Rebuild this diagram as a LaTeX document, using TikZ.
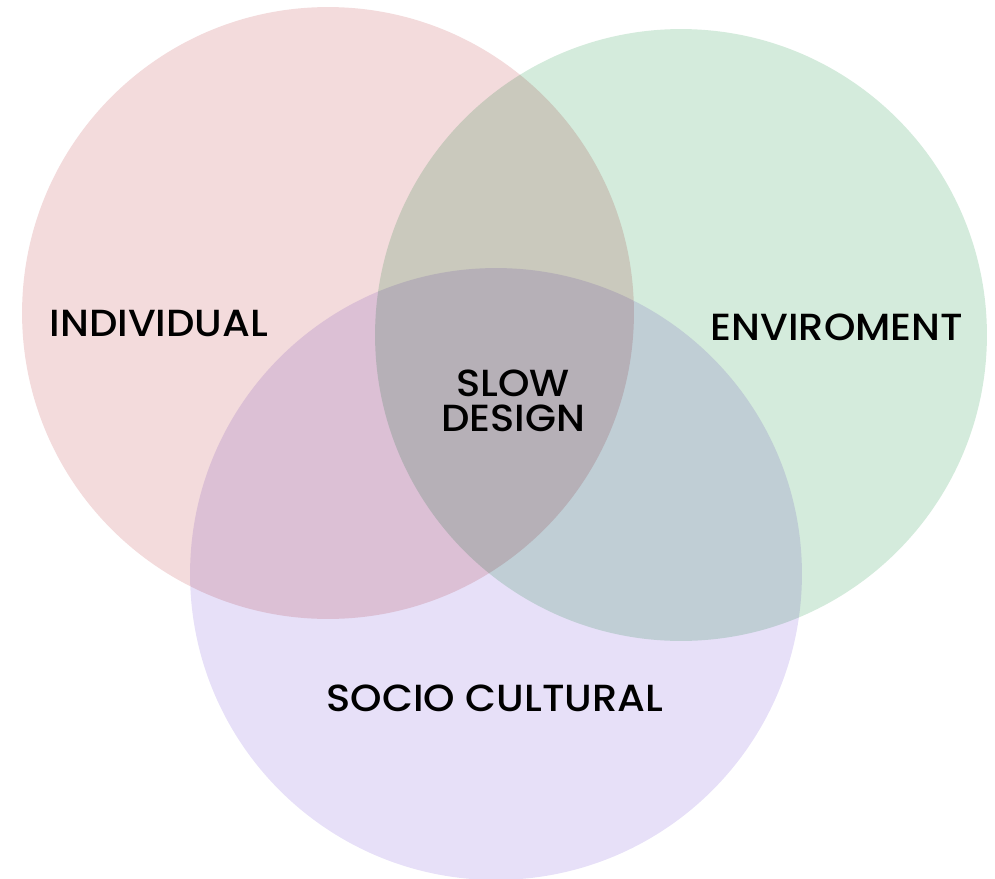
\documentclass[tikz,border=0pt]{standalone}
\usepackage{fontspec}
\setmainfont{Poppins}[UprightFont={* Medium},FakeStretch=1.06]
\usetikzlibrary{positioning}

\definecolor{indred}{HTML}{F3DBDC}
\definecolor{envgreen}{HTML}{D4EBDC}
\definecolor{socpurple}{HTML}{E7E0F8}

\begin{document}
\begin{tikzpicture}
[x=0.02cm,y=-0.02cm,font=\fontsize{21.5}{20}\selectfont,text=black]
\tikzstyle{set}=[circle,draw=none,minimum size=12.24cm,inner sep=0pt]
\tikzstyle{lbl}=[inner sep=0pt,align=center]
\useasboundingbox (0,0) rectangle (995,879);
\begin{scope}[blend group=multiply]
\node[set,fill=indred] (ind) at (328,313) {};
\node[set,fill=envgreen] (env) at (681,335) {};
\node[set,fill=socpurple] (soc) at (496,574) {};
\end{scope}
\node[lbl] (indlbl) at (159,323) {INDIVIDUAL};
\node[lbl] (envlbl) at (837,327) {ENVIROMENT};
\node[lbl] (socl) at (495,698) {SOCIO CULTURAL};
\node[lbl] (slow) at (513,401) {SLOW\\DESIGN};
\end{tikzpicture}
\end{document}
